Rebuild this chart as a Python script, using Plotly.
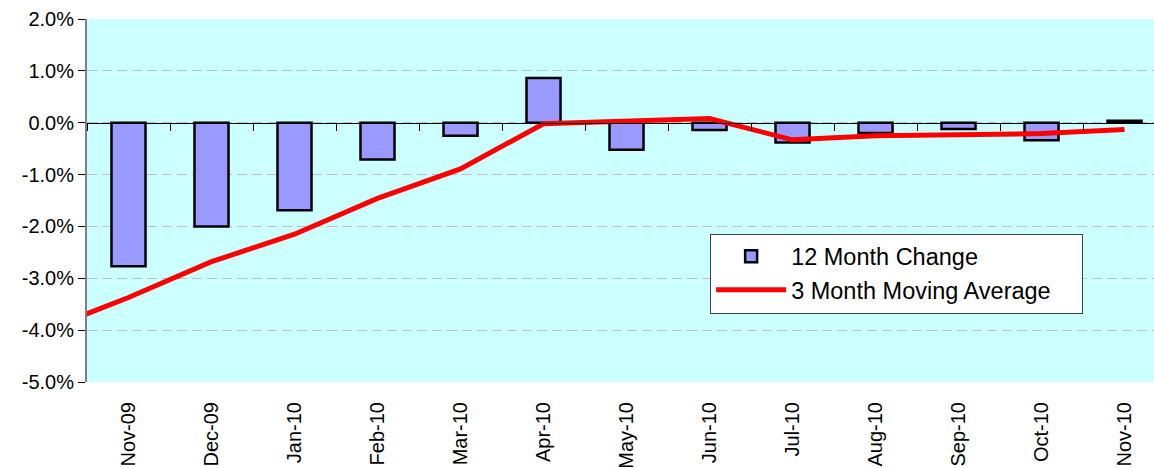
import plotly.graph_objects as go

# ---- data (percent) ----
months = ["Oct-09", "Nov-09", "Dec-09", "Jan-10", "Feb-10", "Mar-10", "Apr-10",
          "May-10", "Jun-10", "Jul-10", "Aug-10", "Sep-10", "Oct-10", "Nov-10"]
change_12m = [None, -2.77, -2.00, -1.69, -0.71, -0.25, 0.86,
              -0.52, -0.14, -0.38, -0.20, -0.12, -0.34, 0.04]
moving_avg_3m = [-4.00, -3.37, -2.68, -2.15, -1.46, -0.89, -0.02,
                 0.04, 0.08, -0.33, -0.25, -0.23, -0.21, -0.13]
y_ticks = [2, 1, 0, -1, -2, -3, -4, -5]
y_ticktext = [f"{v:.1f}%" for v in y_ticks]

FONT = "Liberation Sans, Arial, sans-serif"
idx = list(range(len(months)))
y_min, y_max = -5, 2
x_lo, x_hi = 0.5, 13.355

fig = go.Figure()
fig.add_trace(go.Bar(
    x=idx, y=change_12m, name="12 Month Change", width=0.41,
    marker=dict(color="#9999FF", line=dict(color="black", width=2.5)),
    legendgroup="a",
))
fig.add_trace(go.Scatter(
    x=idx, y=moving_avg_3m, name="3 Month Moving Average\u00a0\u00a0\u00a0\u00a0",
    mode="lines", line=dict(color="#FF0000", width=5), xaxis="x2", legendgroup="b",
))

fig.update_layout(
    width=1154, height=468,
    margin=dict(l=87, r=0, t=19, b=86),
    paper_bgcolor="white", plot_bgcolor="#CCFFFF",
    font=dict(family=FONT, size=20, color="black"),
    showlegend=True,
    legend=dict(
        x=0.584, y=0.409, xanchor="left", yanchor="top",
        bgcolor="white", bordercolor="#404040", borderwidth=1,
        font=dict(size=23.5), tracegroupgap=0, itemwidth=70,
    ),
    xaxis=dict(
        range=[x_lo, x_hi], tickmode="array", tickvals=idx[1:], ticktext=months[1:],
        tickangle=-90, ticks="", showgrid=False, zeroline=False, showline=False,
        tickfont=dict(size=20), ticklabelstandoff=15,
    ),
    xaxis2=dict(
        overlaying="x", anchor="free", position=(0 - y_min) / (y_max - y_min),
        range=[x_lo, x_hi], tickmode="array",
        tickvals=[i + 0.5 for i in idx[:-1]],
        ticks="outside", ticklen=7, tickcolor="black", tickwidth=1,
        showticklabels=False, showgrid=False, zeroline=False,
        showline=True, linecolor="black", linewidth=1,
    ),
    yaxis=dict(
        range=[y_min, y_max], tickmode="array", tickvals=y_ticks, ticktext=y_ticktext,
        showgrid=True, gridcolor="#C0C0C0", gridwidth=1, griddash="10px,5px",
        zeroline=False, showline=True, linecolor="#808080", linewidth=2,
        ticks="outside", ticklen=7, tickcolor="black", tickfont=dict(size=20),
    ),
    bargap=0.59,
)

fig.write_html(
    "out.html",
    config={"displayModeBar": False},
    post_script="document.body.style.margin='0';document.body.style.overflow='hidden';",
)
